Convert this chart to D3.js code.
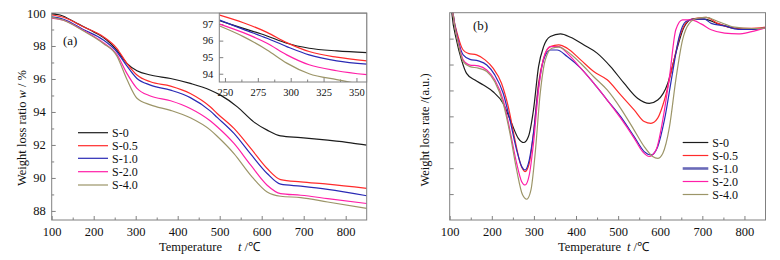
<!DOCTYPE html>
<html>
<head>
<meta charset="utf-8">
<script src="https://cdn.jsdelivr.net/npm/d3@7"></script>
<style>
  body { margin: 0; background: #fff; }
  svg { display: block; font-family: "Liberation Serif", "Times New Roman", serif; }
  .axis path, .axis line { stroke: #808080; }
  .axis text { font-family: "Liberation Serif", serif; fill: #111; }
</style>
</head>
<body>
<svg width="780" height="260"></svg>
<script>
// ---------- data ----------
var seriesNames = ["S-0", "S-0.5", "S-1.0", "S-2.0", "S-4.0"];
var seriesColors = ["#1c1c1c", "#ff2b2b", "#2a2ab5", "#ff1fa8", "#9c9568"];

// (a) TG curves: [temperature, weight %]
var tgS0 = [[100,99.95],[120,99.88],[160,99.37],[199,98.87],[231,98.36],[255,97.75],[279,96.95],[303,96.5],[335,96.24],[383,96.03],[430,95.73],[478,95.32],[502,95.02],[542,94.31],[581,93.4],[613,92.9],[645,92.55],[693,92.45],[757,92.29],[812,92.13],[850,91.99]];
var tgS05 = [[100,99.88],[128,99.74],[175,99.17],[223,98.56],[255,97.86],[279,96.95],[303,96.24],[335,95.83],[383,95.57],[430,95.12],[478,94.3],[494,93.91],[534,93.0],[574,91.79],[613,90.57],[645,89.9],[693,89.76],[757,89.62],[850,89.37]];
var tgS10 = [[100,99.76],[128,99.62],[175,99.0],[223,98.36],[255,97.65],[279,96.79],[303,96.03],[335,95.63],[383,95.32],[430,94.87],[478,94.05],[494,93.67],[534,92.7],[574,91.44],[613,90.27],[645,89.62],[693,89.5],[757,89.31],[850,88.92]];
var tgS20 = [[100,99.68],[128,99.56],[175,98.95],[223,98.2],[255,97.5],[279,96.34],[303,95.43],[335,94.97],[383,94.68],[430,94.21],[478,93.45],[494,93.1],[534,92.09],[574,90.77],[613,89.56],[645,89.05],[693,88.95],[757,88.75],[850,88.45]];
var tgS40 = [[100,99.74],[128,99.56],[175,98.92],[223,98.15],[255,97.4],[279,95.98],[303,94.83],[335,94.43],[383,94.1],[430,93.65],[478,92.9],[494,92.53],[534,91.48],[574,90.16],[613,89.15],[645,88.89],[693,88.81],[757,88.54],[850,88.15]];

// (a) inset
var insetTemps = [246, 264, 282, 297, 314, 335, 358];
var insetS0 = [97.2, 96.74, 96.28, 95.84, 95.54, 95.38, 95.28];
var insetS05 = [97.54, 97.08, 96.5, 95.88, 95.34, 95.0, 94.78];
var insetS10 = [97.24, 96.68, 96.14, 95.64, 95.14, 94.78, 94.58];
var insetS20 = [97.0, 96.48, 95.84, 95.14, 94.54, 94.18, 93.94];
var insetS40 = [96.88, 96.24, 95.44, 94.64, 94.0, 93.64, 93.3];

// (b) DTG curves: [temperature, rate (a.u.)]
var dtgS0 = [[102,8.6],[105,8.0],[116,6.95],[128,6.18],[140,5.66],[160,5.4],[180,5.21],[203,4.95],[227,4.5],[247,3.73],[263,3.15],[276,2.99],[287,3.22],[299,4.25],[311,5.92],[323,6.69],[339,7.08],[363,7.18],[387,7.05],[418,6.76],[450,6.44],[482,5.92],[514,5.28],[546,4.7],[574,4.5],[594,4.63],[618,5.28],[637,6.44],[657,7.46],[677,7.75],[705,7.75],[737,7.57],[777,7.4],[817,7.36],[850,7.43]];
var dtgS05 = [[104,8.6],[108,7.98],[120,7.08],[132,6.56],[144,6.43],[164,6.37],[184,6.18],[203,5.86],[223,5.28],[239,4.38],[255,3.09],[269,2.12],[279,1.87],[289,2.19],[299,3.35],[311,5.28],[323,6.24],[339,6.69],[359,6.76],[379,6.63],[411,6.18],[442,5.73],[474,5.41],[506,4.83],[538,4.25],[562,3.8],[578,3.73],[594,3.93],[610,4.63],[629,5.92],[649,7.21],[669,7.72],[689,7.79],[709,7.82],[737,7.59],[777,7.4],[817,7.4],[850,7.44]];
var dtgS10 = [[104,8.6],[108,7.98],[120,6.95],[132,6.37],[148,6.2],[168,6.14],[188,5.98],[207,5.6],[227,4.89],[243,3.86],[259,2.7],[271,2.06],[279,1.93],[289,2.32],[299,3.35],[311,5.15],[323,6.18],[339,6.56],[355,6.56],[379,6.31],[411,5.86],[442,5.28],[474,4.63],[506,3.99],[538,3.22],[562,2.64],[578,2.51],[594,2.83],[610,3.86],[629,5.66],[645,7.08],[661,7.66],[681,7.75],[705,7.75],[721,7.59],[753,7.49],[785,7.36],[817,7.36],[850,7.41]];
var dtgS20 = [[104,8.6],[108,7.92],[120,6.89],[132,6.18],[148,5.98],[168,5.95],[188,5.79],[207,5.41],[227,4.63],[243,3.47],[259,2.19],[271,1.48],[279,1.35],[289,1.74],[299,2.96],[311,5.02],[323,6.24],[339,6.69],[359,6.69],[379,6.44],[411,5.86],[442,5.28],[474,4.63],[506,3.93],[538,3.16],[558,2.64],[574,2.45],[590,2.7],[606,3.86],[622,5.53],[637,7.34],[653,7.72],[673,7.72],[697,7.57],[721,7.34],[753,7.21],[785,7.18],[817,7.27],[850,7.41]];
var dtgS40 = [[104,8.6],[108,7.92],[120,6.82],[132,6.11],[148,5.92],[168,5.86],[188,5.73],[207,5.34],[227,4.5],[243,3.35],[259,1.93],[273,0.97],[283,0.8],[293,1.16],[303,2.57],[315,4.89],[327,6.18],[343,6.63],[359,6.67],[379,6.5],[411,6.05],[442,5.53],[474,5.02],[506,4.31],[538,3.47],[562,2.83],[582,2.45],[594,2.38],[606,2.57],[622,3.6],[637,5.41],[653,6.95],[669,7.59],[689,7.79],[709,7.82],[737,7.66],[777,7.44],[817,7.39],[850,7.41]];

var tempTicks = [100, 200, 300, 400, 500, 600, 700, 800];
var tgTicks = [88, 90, 92, 94, 96, 98, 100];
var insetXTicks = [250, 275, 300, 325, 350];
var insetYTicks = [94, 95, 96, 97];
var dtgTicks = [1, 2, 3, 4, 5, 6, 7];

var tgData = [tgS0, tgS05, tgS10, tgS20, tgS40];
var insetData = [insetS0, insetS05, insetS10, insetS20, insetS40];
var dtgData = [dtgS0, dtgS05, dtgS10, dtgS20, dtgS40];

var svg = d3.select("svg");

// ---------- scales ----------
var xA = d3.scaleLinear().domain([100, 850]).range([51.7, 366.7]);
var yA = d3.scaleLinear().domain([87.45, 100]).range([220, 13]);
var xIn = d3.scaleLinear().domain([245.7, 357.8]).range([219.3, 366.7]);
var yIn = d3.scaleLinear().domain([93.5, 97.65]).range([82, 13.3]);
var xB = d3.scaleLinear().domain([100, 850]).range([449.7, 765.5]);
var yB = d3.scaleLinear().domain([0, 8]).range([220, 12.7]);

var defs = svg.append("defs");
function addClip(id, xs, ys) {
    defs.append("clipPath").attr("id", id).append("rect")
        .attr("x", xs.range()[0]).attr("y", ys.range()[1])
        .attr("width", xs.range()[1] - xs.range()[0])
        .attr("height", ys.range()[0] - ys.range()[1]);
}
addClip("clipA", xA, yA);
addClip("clipIn", xIn, yIn);
addClip("clipB", xB, yB);

function frame(xs, ys) {
    svg.append("rect")
        .attr("x", xs.range()[0]).attr("y", ys.range()[1])
        .attr("width", xs.range()[1] - xs.range()[0])
        .attr("height", ys.range()[0] - ys.range()[1])
        .attr("fill", "none").attr("stroke", "#808080").attr("stroke-width", 1);
}

// inward ticks with minor ticks in between
function drawAxes(xs, ys, xticks, yticks, xMinor, yMinor, fs, showY) {
    var gx = svg.append("g").attr("class", "axis")
        .attr("transform", "translate(0," + ys.range()[0] + ")")
        .call(d3.axisBottom(xs).tickValues(xticks).tickSize(-4).tickPadding(7).tickFormat(d3.format("d")));
    gx.select(".domain").remove();
    gx.selectAll("text").style("font-size", fs + "px");
    svg.append("g").attr("class", "axis")
        .attr("transform", "translate(0," + ys.range()[0] + ")")
        .call(d3.axisBottom(xs).tickValues(xMinor).tickSize(-2.5).tickFormat(""))
        .select(".domain").remove();

    var gy = svg.append("g").attr("class", "axis")
        .attr("transform", "translate(" + xs.range()[0] + ",0)")
        .call(d3.axisLeft(ys).tickValues(yticks).tickSize(-4).tickPadding(6)
            .tickFormat(showY ? d3.format("d") : ""));
    gy.select(".domain").remove();
    gy.selectAll("text").style("font-size", fs + "px");
    if (yMinor.length) {
        svg.append("g").attr("class", "axis")
            .attr("transform", "translate(" + xs.range()[0] + ",0)")
            .call(d3.axisLeft(ys).tickValues(yMinor).tickSize(-2.5).tickFormat(""))
            .select(".domain").remove();
    }
}

function drawLines(data, xs, ys, clip, width) {
    var line = d3.line().curve(d3.curveMonotoneX).x(d => xs(d[0])).y(d => ys(d[1]));
    svg.append("g").attr("clip-path", "url(#" + clip + ")")
        .selectAll("path").data(data).enter().append("path")
        .attr("d", line)
        .attr("fill", "none")
        .attr("stroke", (d, i) => seriesColors[i])
        .attr("stroke-width", width);
}

function legend(x0, x1, rows) {
    var g = svg.append("g");
    seriesNames.forEach(function (name, i) {
        g.append("line")
            .attr("x1", x0).attr("x2", x1).attr("y1", rows[i]).attr("y2", rows[i])
            .attr("stroke", seriesColors[i]).attr("stroke-width", 1.2);
        g.append("text")
            .attr("x", x1 + 4).attr("y", rows[i] + 4.2)
            .style("font-size", "12px").attr("fill", "#111")
            .text(name);
    });
    return g;
}

// ---------- panel (a) ----------
var minorT = [150, 250, 350, 450, 550, 650, 750];
drawAxes(xA, yA, tempTicks, tgTicks, minorT, [89, 91, 93, 95, 97, 99], 12.5, true);
drawLines(tgData, xA, yA, "clipA", 1.2);
frame(xA, yA);

// inset
svg.append("rect")
    .attr("x", xIn.range()[0]).attr("y", yIn.range()[1])
    .attr("width", xIn.range()[1] - xIn.range()[0])
    .attr("height", yIn.range()[0] - yIn.range()[1])
    .attr("fill", "#fff");
var insetLines = insetData.map(arr => arr.map((v, i) => [insetTemps[i], v]));
drawAxes(xIn, yIn, insetXTicks, insetYTicks, [262.5, 287.5, 312.5, 337.5], [], 10.5, true);
drawLines(insetLines, xIn, yIn, "clipIn", 1.2);
frame(xIn, yIn);

svg.append("text").attr("x", 63).attr("y", 45)
    .style("font-size", "13px").attr("fill", "#111").text("(a)");

legend(78, 108, [132.7, 145.7, 158.3, 171.7, 185]);

// axis titles (a)
var xtA = svg.append("text").attr("x", 159).attr("y", 251)
    .style("font-size", "12.5px").attr("fill", "#111");
xtA.append("tspan").text("Temperature");
xtA.append("tspan").attr("x", 238).style("font-style", "italic").text("t");
xtA.append("tspan").text(" /℃");

var ytA = svg.append("text")
    .attr("transform", "translate(26,128) rotate(-90)")
    .attr("text-anchor", "middle")
    .style("font-size", "12.5px").attr("fill", "#111");
ytA.append("tspan").text("Weight loss ratio  ");
ytA.append("tspan").style("font-style", "italic").text("w");
ytA.append("tspan").text(" / %");

// ---------- panel (b) ----------
drawAxes(xB, yB, tempTicks, dtgTicks, minorT, [], 12.5, false);
drawLines(dtgData, xB, yB, "clipB", 1.2);
frame(xB, yB);

svg.append("text").attr("x", 473).attr("y", 29.5)
    .style("font-size", "13px").attr("fill", "#111").text("(b)");

var legB = legend(682.7, 708.3, [142.5, 155.5, 168.5, 181.5, 194.5]);
legB.selectAll("line").filter((d, i) => i === 2)
    .attr("stroke", "#6a6ab8").attr("stroke-width", 2.6);

var xtB = svg.append("text").attr("x", 558).attr("y", 251)
    .style("font-size", "12.5px").attr("fill", "#111");
xtB.append("tspan").text("Temperature");
xtB.append("tspan").attr("x", 627).style("font-style", "italic").text("t");
xtB.append("tspan").text(" /℃");

svg.append("text")
    .attr("transform", "translate(429,130) rotate(-90)")
    .attr("text-anchor", "middle")
    .style("font-size", "12.5px").attr("fill", "#111")
    .text("Weight loss rate  /(a.u.)");
</script>
</body>
</html>
